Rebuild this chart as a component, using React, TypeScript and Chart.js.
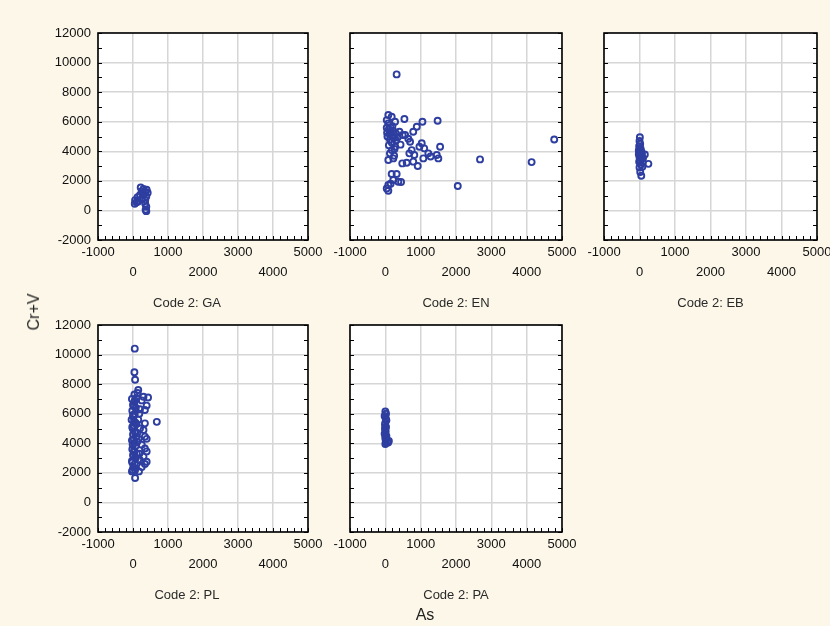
import React, { useEffect, useRef } from "react";
import { Chart, registerables } from "chart.js";

Chart.register(...registerables);

// ---- data (As, Cr+V) per Code 2 group ----
const panelCodes = ["GA", "EN", "EB", "PL", "PA"];
const xAxisTitle = "As";
const yAxisTitle = "Cr+V";
const xTickValues = [-1000, 0, 1000, 2000, 3000, 4000, 5000];
const yTickValues = [-2000, 0, 2000, 4000, 6000, 8000, 10000, 12000];

const gaPoints: [number, number][] = [
  [220, 1550], [300, 1450], [390, 1400], [250, 1300], [350, 1250], [420, 1200],
  [200, 1050], [300, 1100], [130, 900], [380, 950], [60, 700], [100, 550],
  [50, 450], [150, 600], [350, 700], [350, 450], [380, 250], [360, 50],
  [380, -50], [250, 800],
];

const enPoints: [number, number][] = [
  [320, 9200], [4780, 4800], [2680, 3450], [4140, 3270], [2050, 1650],
  [1480, 6070], [1050, 6000], [890, 5660], [790, 5320], [540, 6180],
  [85, 6450], [180, 6340], [40, 6110], [85, 5890], [275, 6000],
  [400, 5320], [490, 5100], [560, 5100], [100, 5500], [150, 5300],
  [200, 5000], [250, 4900], [300, 4750], [120, 5200], [180, 4600],
  [220, 5400], [60, 5000], [130, 4800], [275, 4300], [180, 4080],
  [130, 3860], [85, 3410], [225, 3520], [1030, 4540], [965, 4310],
  [1100, 4200], [1550, 4310], [746, 4080], [680, 3860], [820, 3745],
  [1217, 3860], [1500, 3520], [1075, 3520], [1455, 3745], [790, 3300],
  [480, 3180], [605, 3225], [917, 3000], [180, 2460], [320, 2460],
  [225, 2055], [368, 1940], [445, 1920], [85, 1720], [40, 1490],
  [85, 1330], [200, 5700], [150, 5600], [50, 5250], [350, 4950],
  [650, 4850], [700, 4650], [430, 4450], [260, 4150], [40, 5600],
  [300, 5200], [100, 4400], [250, 3700], [1280, 3650], [150, 1800],
];

const ebPoints: [number, number][] = [
  [10, 4950], [0, 4700], [20, 4500], [-10, 4350], [30, 4200], [0, 4100],
  [50, 4000], [10, 3900], [70, 3850], [-20, 3800], [30, 3700], [150, 3780],
  [0, 3600], [60, 3500], [20, 3400], [-10, 3300], [90, 3250], [250, 3150],
  [40, 3100], [0, 2900], [80, 2950], [20, 2600], [50, 2350], [30, 3950],
  [100, 3550], [-20, 4050],
];

const plPoints: [number, number][] = [
  [50, 10400], [40, 8800], [60, 8300], [150, 7600], [40, 7300], [100, 7050],
  [300, 7150], [430, 7100], [250, 6900], [390, 6550], [340, 6250], [680, 5450],
  [340, 5350], [300, 4900], [340, 4450], [390, 4300], [250, 3900], [340, 3650],
  [390, 3450], [300, 3100], [390, 2750], [340, 2600], [250, 2400], [200, 2850],
  [60, 1650], [-30, 2100], [60, 2200],
  [-30, 7000], [40, 6800], [0, 6600], [80, 6400], [-20, 6200], [50, 6000],
  [10, 5800], [-40, 5600], [70, 5400], [20, 5200], [-10, 5000], [60, 4800],
  [0, 4600], [90, 4400], [-30, 4200], [30, 4000], [70, 3800], [-20, 3600],
  [40, 3400], [0, 3200], [80, 3000], [-30, 2800], [50, 2600], [10, 2400],
  [-10, 2200], [0, 5900], [30, 5500], [-20, 5100], [60, 4700], [20, 4300],
  [-10, 3900], [30, 3500], [60, 3100], [-20, 2700], [20, 6500], [50, 6900],
  [100, 5300], [120, 4100], [110, 3300],
  [180, 6000], [150, 5600], [200, 5000], [160, 4300], [180, 3300], [150, 2900],
  [120, 4700], [200, 6300], [170, 2100], [130, 7400],
];

const paPoints: [number, number][] = [
  [0, 6150], [20, 6000], [-20, 5850], [10, 5700], [30, 5550], [0, 5400],
  [-10, 5250], [20, 5100], [0, 4950], [10, 4800], [-20, 4650], [30, 4500],
  [0, 4350], [10, 4200], [20, 4050], [0, 3950], [80, 4050], [-10, 5000],
  [15, 5600], [5, 4450], [100, 4150],
];

const panelData = [gaPoints, enPoints, ebPoints, plPoints, paPoints];

// ---- styling / layout ----
const BG = "#fcf7e9";
const FONT = "'Liberation Sans', Arial, sans-serif";
const MARKER = "#2e3ea0";
const WY = 60;
const PT = 6;
const PR = 30;
const HX = 80;

const layout = [
  { left: 98, top: 33, width: 210, height: 207, showY: true, titleShift: -16 },
  { left: 350, top: 33, width: 212, height: 207, showY: false, titleShift: 0 },
  { left: 604, top: 33, width: 213, height: 207, showY: false, titleShift: 0 },
  { left: 98, top: 325, width: 210, height: 207, showY: true, titleShift: -16 },
  { left: 350, top: 325, width: 212, height: 207, showY: false, titleShift: 0 },
];

const decorPlugin = {
  id: "panelDecor",
  beforeDraw(chart: any) {
    const { ctx, chartArea } = chart;
    ctx.save();
    ctx.fillStyle = "#ffffff";
    ctx.fillRect(chartArea.left, chartArea.top, chartArea.right - chartArea.left, chartArea.bottom - chartArea.top);
    ctx.restore();
  },
  afterDraw(chart: any, _args: any, opts: any) {
    const { ctx, chartArea, scales } = chart;
    const { left, right, top, bottom } = chartArea;
    ctx.save();
    ctx.strokeStyle = "#000";
    ctx.lineWidth = 1;
    ctx.beginPath();
    for (let v = -2000; v <= 12000; v += 1000) {
      const py = Math.round(scales.y.getPixelForValue(v)) + 0.5;
      ctx.moveTo(left, py);
      ctx.lineTo(left + 4, py);
      ctx.moveTo(right - 4, py);
      ctx.lineTo(right, py);
    }
    for (let v = -1000; v <= 5000; v += 200) {
      const px = Math.round(scales.x.getPixelForValue(v)) + 0.5;
      ctx.moveTo(px, bottom);
      ctx.lineTo(px, bottom - 4);
    }
    ctx.stroke();
    ctx.lineWidth = 1.6;
    ctx.strokeRect(left, top, right - left, bottom - top);
    ctx.fillStyle = "#2a2a2a";
    ctx.font = `13px ${FONT}`;
    ctx.textAlign = "center";
    ctx.textBaseline = "middle";
    ctx.fillText(`Code 2: ${opts.code}`, (left + right) / 2 + (opts.shift || 0), bottom + 63);
    ctx.restore();
  },
};

function Panel({ index }: { index: number }) {
  const ref = useRef<HTMLCanvasElement>(null);
  const cfg = layout[index];
  const cw = WY + cfg.width + PR;
  const ch = PT + cfg.height + HX;

  useEffect(() => {
    const points = panelData[index];
    const chart = new Chart(ref.current as HTMLCanvasElement, {
      type: "scatter",
      data: {
        datasets: [
          {
            data: points.map(([x, y]) => ({ x, y })),
            pointStyle: "circle",
            pointRadius: 3,
            pointBorderWidth: 1.9,
            borderColor: MARKER,
            backgroundColor: "rgba(255,255,255,0)",
          },
        ],
      },
      options: {
        animation: false,
        responsive: false,
        maintainAspectRatio: false,
        layout: { padding: { top: PT, right: PR, left: 0, bottom: 0 } },
        plugins: {
          legend: { display: false },
          tooltip: { enabled: false },
          panelDecor: { code: panelCodes[index], shift: cfg.titleShift },
        } as any,
        scales: {
          x: {
            type: "linear",
            min: xTickValues[0],
            max: xTickValues[xTickValues.length - 1],
            afterBuildTicks: (s: any) => {
              s.ticks = xTickValues.map((v) => ({ value: v }));
            },
            afterFit: (s: any) => {
              s.height = HX;
              s.paddingLeft = 0;
              s.paddingRight = 0;
            },
            grid: { color: "#d6d6d6", lineWidth: 1.5, drawTicks: false },
            border: { display: false },
            ticks: {
              autoSkip: false,
              maxRotation: 0,
              minRotation: 0,
              padding: 2,
              color: "#111",
              font: { family: FONT, size: 13, lineHeight: "20px" },
              callback: (value: any) => {
                const v = Number(value);
                const s = String(v);
                return Math.abs(v / 1000) % 2 === 0 ? ["", s] : s;
              },
            },
          },
          y: {
            type: "linear",
            min: yTickValues[0],
            max: yTickValues[yTickValues.length - 1],
            afterBuildTicks: (s: any) => {
              s.ticks = yTickValues.map((v) => ({ value: v }));
            },
            afterFit: (s: any) => {
              s.width = WY;
              s.paddingTop = 0;
              s.paddingBottom = 0;
            },
            grid: { color: "#d6d6d6", lineWidth: 1.5, drawTicks: false },
            border: { display: false },
            ticks: {
              autoSkip: false,
              padding: 7,
              color: "#111",
              font: { family: FONT, size: 13 },
              callback: (value: any) => (cfg.showY ? String(Number(value)) : ""),
            },
          },
        },
      } as any,
      plugins: [decorPlugin],
    });
    return () => chart.destroy();
  }, [index]);

  return (
    <canvas
      ref={ref}
      width={cw}
      height={ch}
      style={{
        position: "absolute",
        left: cfg.left - WY,
        top: cfg.top - PT,
        width: cw,
        height: ch,
      }}
    />
  );
}

export default function App() {
  return (
    <div
      style={{
        position: "fixed",
        left: 0,
        top: 0,
        width: 830,
        height: 626,
        background: BG,
        overflow: "hidden",
        fontFamily: FONT,
      }}
    >
      {panelCodes.map((_, i) => (
        <Panel key={i} index={i} />
      ))}
      <div
        style={{
          position: "absolute",
          left: 34,
          top: 312,
          transform: "translate(-50%, -50%) rotate(-90deg)",
          fontSize: 16,
          color: "#222",
          whiteSpace: "nowrap",
        }}
      >
        {yAxisTitle}
      </div>
      <div
        style={{
          position: "absolute",
          left: 425,
          top: 615,
          transform: "translate(-50%, -50%)",
          fontSize: 16,
          color: "#222",
          whiteSpace: "nowrap",
        }}
      >
        {xAxisTitle}
      </div>
    </div>
  );
}
